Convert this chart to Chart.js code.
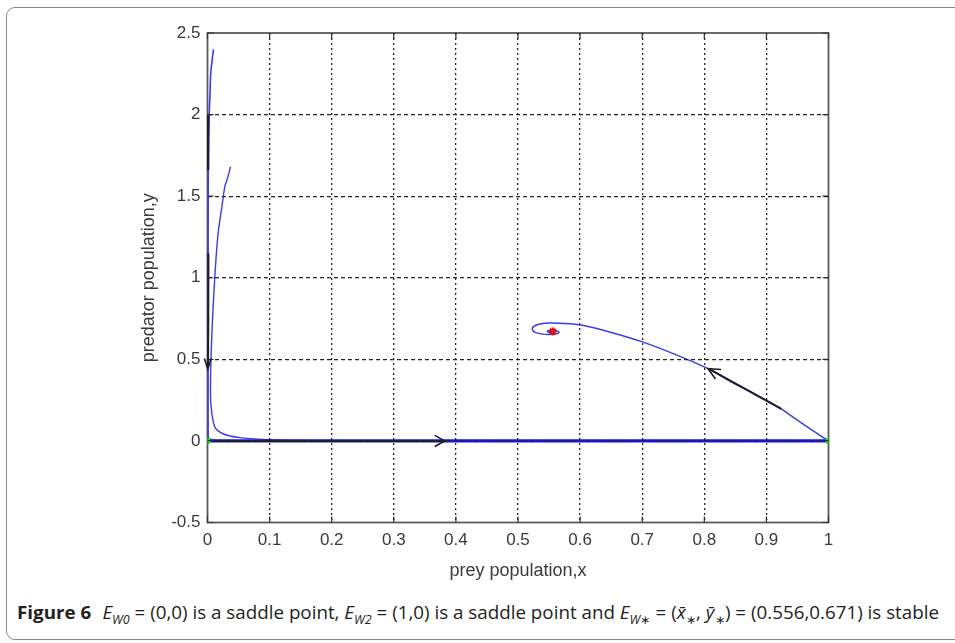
<!DOCTYPE html>
<html>
<head>
<meta charset="utf-8">
<script src="https://cdn.jsdelivr.net/npm/chart.js@4.4.1/dist/chart.umd.min.js"></script>
<style>
  html, body { margin: 0; padding: 0; background: #fff; }
  body { width: 955px; height: 643px; position: relative; overflow: hidden; }
  #frame {
    position: absolute; left: 6px; top: 7px; width: 970px; height: 633px;
    border: 1.5px solid #8a8a8a; border-radius: 9px; box-sizing: border-box;
  }
  #plot { position: absolute; left: 0; top: 0; width: 955px; height: 600px; }
  #caption {
    position: absolute; left: 17px; top: 600px; white-space: nowrap;
    font-family: "Open Sans", "Noto Sans", sans-serif; font-size: 18px; color: #231f20;
    transform-origin: 0 50%;
  }
  #caption b { font-weight: 700; margin-right: 6px; }
  #caption sub { font-size: 12px; }
</style>
</head>
<body>
<div id="frame"></div>
<div id="plot"><canvas id="phaseChart" width="955" height="600"></canvas></div>
<div id="caption"><b>Figure 6</b> <i>E</i><sub><i>W0</i></sub> = (0,0) is a saddle point, <i>E</i><sub><i>W2</i></sub> = (1,0) is a saddle point and <i>E</i><sub><i>W</i>∗</sub> = (<i>x̄</i><sub>∗</sub>, <i>ȳ</i><sub>∗</sub>) = (0.556,0.671) is stable</div>

<script>
// --- axis ticks ---
const xTicks = [0, 0.1, 0.2, 0.3, 0.4, 0.5, 0.6, 0.7, 0.8, 0.9, 1];
const xTickLabels = ['0', '0.1', '0.2', '0.3', '0.4', '0.5', '0.6', '0.7', '0.8', '0.9', '1'];
const yTicks = [-0.5, 0, 0.5, 1, 1.5, 2, 2.5];
const yTickLabels = ['-0.5', '0', '0.5', '1', '1.5', '2', '2.5'];

// --- trajectories ---
// starts near (0.01, 2.4), drops down the y axis, then runs along the x axis
const trajAx = [0.0097, 0.007, 0.005, 0.004, 0.003, 0.002, 0.0012, 0.0009, 0.0009, 0.0009, 0.002, 0.01, 0.05, 0.2];
const trajAy = [2.40, 2.32, 2.24, 2.12, 2.03, 1.85, 1.60, 1.00, 0.50, 0.06, 0.015, 0.004, 0.001, 0];
// starts near (0.037, 1.68)
const trajBx = [0.037, 0.033, 0.028, 0.023, 0.017, 0.012, 0.008, 0.006, 0.005, 0.005, 0.007, 0.012, 0.025, 0.052, 0.095, 0.15, 0.3];
const trajBy = [1.68, 1.62, 1.56, 1.43, 1.27, 1.02, 0.74, 0.55, 0.40, 0.26, 0.17, 0.085, 0.044, 0.02, 0.008, 0.003, 0];
// along the prey axis from E_w0 to E_w2
const axisLineX = [0, 1];
const axisLineY = [0, 0];
// leaves (1,0) and spirals into the interior equilibrium
const trajCx = [1.0, 0.97, 0.945, 0.92, 0.88, 0.84, 0.806, 0.75, 0.698, 0.65, 0.602, 0.575, 0.55, 0.532, 0.523, 0.526, 0.537, 0.55, 0.562, 0.566, 0.561, 0.552, 0.547, 0.551, 0.557];
const trajCy = [0.0, 0.075, 0.14, 0.205, 0.29, 0.37, 0.443, 0.535, 0.61, 0.665, 0.71, 0.72, 0.722, 0.713, 0.69, 0.668, 0.656, 0.652, 0.657, 0.667, 0.676, 0.678, 0.671, 0.665, 0.668];

// --- direction arrows (black) ---
const arrowTopX = [0.001, 0.001];
const arrowTopY = [2.00, 1.66];
const arrowLeftX = [0.0015, 0.0012, 0.0008];
const arrowLeftY = [1.15, 0.70, 0.445];
const arrowLeftHeadX = [-0.005, 0.0005, 0.006];
const arrowLeftHeadY = [0.505, 0.44, 0.505];
const arrowBottomX = [0.01, 0.38];
const arrowBottomY = [0, 0];
const arrowBottomHeadX = [0.366, 0.382, 0.366];
const arrowBottomHeadY = [0.034, 0, -0.034];
const arrowRightX = [0.924, 0.808];
const arrowRightY = [0.197, 0.44];
const arrowRightHeadX = [0.827, 0.806, 0.818];
const arrowRightHeadY = [0.438, 0.443, 0.379];

// --- equilibria ---
const saddleX = [0, 1];
const saddleY = [0, 0];
const stableX = [0.556];
const stableY = [0.671];

function pts(xs, ys) {
    return xs.map((x, i) => ({ x: x, y: ys[i] }));
}

const thinBlue = '#3c3ce6';
const arrowColor = '#1b1b2a';
const labelFont = 'Liberation Sans, Arial, sans-serif';

function lineSet(xs, ys, color, width, order, tension) {
    return {
        data: pts(xs, ys),
        showLine: true,
        borderColor: color,
        borderWidth: width,
        pointRadius: 0,
        tension: tension || 0,
        clip: false,
        order: order
    };
}

// box + inward tick marks, like matlab axes
const axesBox = {
    id: 'axesBox',
    beforeDatasetsDraw(chart) {
        const { ctx, chartArea: a, scales } = chart;
        ctx.save();
        ctx.strokeStyle = '#5a5a5a';
        ctx.lineWidth = 1.8;
        ctx.strokeRect(a.left, a.top, a.right - a.left, a.bottom - a.top);
        ctx.lineWidth = 1.2;
        ctx.strokeStyle = '#333';
        ctx.beginPath();
        scales.x.ticks.forEach(t => {
            const px = scales.x.getPixelForValue(t.value);
            ctx.moveTo(px, a.top); ctx.lineTo(px, a.top + 6);
            ctx.moveTo(px, a.bottom); ctx.lineTo(px, a.bottom - 6);
        });
        scales.y.ticks.forEach(t => {
            const py = scales.y.getPixelForValue(t.value);
            ctx.moveTo(a.left, py); ctx.lineTo(a.left + 6, py);
            ctx.moveTo(a.right, py); ctx.lineTo(a.right - 6, py);
        });
        ctx.stroke();
        ctx.restore();
    }
};

document.addEventListener('DOMContentLoaded', function() {
    const ctx = document.getElementById('phaseChart').getContext('2d');

    new Chart(ctx, {
        type: 'scatter',
        data: {
            datasets: [
                { data: pts(saddleX, saddleY), pointStyle: 'circle', pointRadius: 3, backgroundColor: '#22dd22', borderColor: '#22dd22', order: 0 },
                { data: pts(stableX, stableY), pointStyle: 'star', pointRadius: 4, borderWidth: 2, backgroundColor: '#e01010', borderColor: '#e01010', order: 0 },
                lineSet(arrowTopX, arrowTopY, arrowColor, 2.2, 1),
                lineSet(arrowLeftX, arrowLeftY, arrowColor, 2.0, 1),
                lineSet(arrowLeftHeadX, arrowLeftHeadY, arrowColor, 1.6, 1),
                lineSet(arrowBottomX, arrowBottomY, arrowColor, 2.0, 1),
                lineSet(arrowBottomHeadX, arrowBottomHeadY, arrowColor, 1.6, 1),
                lineSet(arrowRightX, arrowRightY, arrowColor, 2.0, 1),
                lineSet(arrowRightHeadX, arrowRightHeadY, arrowColor, 1.6, 1),
                lineSet(axisLineX, axisLineY, '#1414f2', 3.2, 2),
                lineSet(trajAx, trajAy, thinBlue, 1.6, 3, 0.2),
                lineSet(trajBx, trajBy, thinBlue, 1.4, 3, 0.3),
                lineSet(trajCx, trajCy, thinBlue, 1.5, 3, 0.3)
            ]
        },
        options: {
            responsive: false,
            animation: false,
            events: [],
            layout: { padding: { top: 33, right: 126.5, left: 0, bottom: 0 } },
            plugins: {
                legend: { display: false },
                tooltip: { enabled: false }
            },
            scales: {
                x: {
                    type: 'linear',
                    min: 0,
                    max: 1,
                    afterBuildTicks: s => { s.ticks = xTicks.map(v => ({ value: v })); },
                    afterFit: s => { s.height = 77.5; },
                    border: { display: false, dash: [2, 3] },   // dash applies to grid lines in v4
                    grid: {
                        z: 1,
                        drawTicks: false,
                        lineWidth: 1.3,
                        color: c => (c.tick && (c.tick.value === 0 || c.tick.value === 1)) ? 'rgba(0,0,0,0)' : '#262626'
                    },
                    ticks: {
                        padding: 8,
                        color: '#3a3a3a',
                        font: { family: labelFont, size: 17 },
                        maxRotation: 0,
                        callback: (v, i) => xTickLabels[i]
                    },
                    title: {
                        display: true,
                        text: 'prey population,x',
                        color: '#3a3a3a',
                        font: { family: labelFont, size: 18 },
                        padding: { top: 0, bottom: 18 }
                    }
                },
                y: {
                    type: 'linear',
                    min: -0.5,
                    max: 2.5,
                    afterBuildTicks: s => { s.ticks = yTicks.map(v => ({ value: v })); },
                    afterFit: s => { s.width = 207.5; },
                    border: { display: false, dash: [4, 3] },
                    grid: {
                        z: 1,
                        drawTicks: false,
                        lineWidth: 1.3,
                        color: c => (c.tick && (c.tick.value === -0.5 || c.tick.value === 2.5)) ? 'rgba(0,0,0,0)' : '#262626'
                    },
                    ticks: {
                        padding: 7,
                        color: '#3a3a3a',
                        font: { family: labelFont, size: 17 },
                        callback: (v, i) => yTickLabels[i]
                    },
                    title: {
                        display: true,
                        text: 'predator population,y',
                        color: '#3a3a3a',
                        font: { family: labelFont, size: 18 },
                        padding: { top: 138, bottom: 0 }
                    }
                }
            }
        },
        plugins: [axesBox]
    });

    // squeeze the caption to the width it has in the figure
    const cap = document.getElementById('caption');
    const w = cap.getBoundingClientRect().width;
    cap.style.transform = 'scaleX(' + (922 / w) + ')';
});
</script>
</body>
</html>
